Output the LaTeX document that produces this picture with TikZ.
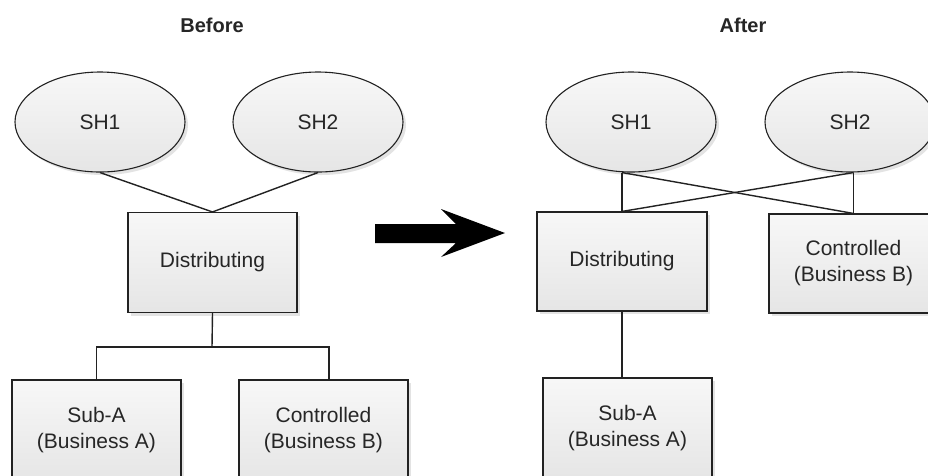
\documentclass[tikz,border=0pt]{standalone}
\usepackage{fontspec}
\setmainfont{Liberation Sans}
\usetikzlibrary{shadows,shapes.geometric}
\definecolor{ink}{HTML}{222222}
\definecolor{txt}{HTML}{262626}
\begin{document}
\begin{tikzpicture}[x=1pt,y=-1pt,
  ent/.style={draw=ink, line width=1.1pt, top color=gray!6, bottom color=gray!20,
    drop shadow={opacity=0.22, shadow xshift=3pt, shadow yshift=-3pt},
    minimum width=169pt, minimum height=100pt, inner sep=0pt, align=center,
    font=\fontsize{21}{26}\selectfont, text=txt},
  shnode/.style={ent, ellipse, minimum width=170pt, minimum height=100pt},
  link/.style={draw=ink, line width=1.4pt},
  ttl/.style={font=\fontsize{20}{24}\selectfont\bfseries, text=txt}]
\useasboundingbox (0,0) rectangle (928,475);
\clip (0,0) rectangle (928,475);
\fill[white] (0,0) rectangle (928,475);

% titles
\node[ttl] (before) at (212,25) {Before};
\node[ttl] (after) at (743,25) {After};

% ---- Before ----
\node[shnode] (sh1l) at (100,122) {SH1};
\node[shnode] (sh2l) at (318,122) {SH2};
\node[ent] (distl) at (212.5,262.5) {Distributing};
\node[ent, minimum height=101pt] (subal) at (96.5,430.5) {Sub-A\\(Business A)};
\node[ent, minimum height=101pt] (ctrll) at (323.5,430.5) {Controlled\\(Business B)};

\draw[link] (sh1l.south) -- (distl.north) -- (sh2l.south);
\coordinate (busl) at (212,347);
\draw[link] (distl.south) -- (busl);
\draw[link] (subal.north) |- (busl) -| ([xshift=5.5pt]ctrll.north);

% ---- arrow ----
\fill[black] (375,224) -- (456,224) -- (441,209) -- (505,233) -- (441,257) -- (456,243) -- (375,243) -- cycle;

% ---- After ----
\node[shnode] (sh1r) at (631,122) {SH1};
\node[shnode] (sh2r) at (850,122) {SH2};
\node[ent, minimum width=170pt, minimum height=99pt] (distr) at (622,261.5) {Distributing};
\node[ent, minimum width=169pt, minimum height=99pt] (ctrlr) at (853.5,263.5) {Controlled\\(Business B)};
\node[ent, minimum height=101pt] (subar) at (627.5,428.5) {Sub-A\\(Business A)};

\coordinate (a1) at (distr.north |- sh1r.south);
\coordinate (a2) at (ctrlr.north |- sh2r.south);
\draw[link] (a1) -- (distr.north);
\draw[link] (a2) -- (ctrlr.north);
\draw[link] (a1) -- (ctrlr.north);
\draw[link] (a2) -- (distr.north);
\draw[link] (distr.south) -- (distr.south |- subar.north);
\end{tikzpicture}
\end{document}
